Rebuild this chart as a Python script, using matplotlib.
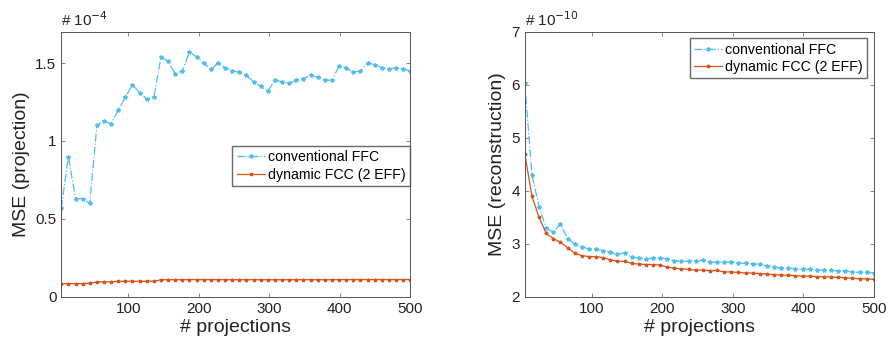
import matplotlib.pyplot as plt
import numpy as np

plt.rcParams['font.family'] = ['Liberation Sans', 'DejaVu Sans']

# number of projections (x positions of samples)
projections = np.linspace(5, 500, 50)

# left panel: MSE on projections, units of 1e-4
proj_conv = [0.57, 0.90, 0.63, 0.63, 0.60, 1.10, 1.13, 1.11, 1.20, 1.28,
             1.36, 1.31, 1.27, 1.28, 1.54, 1.51, 1.43, 1.45, 1.57, 1.54,
             1.50, 1.46, 1.50, 1.47, 1.45, 1.44, 1.42, 1.38, 1.35, 1.32,
             1.39, 1.38, 1.37, 1.39, 1.40, 1.42, 1.41, 1.39, 1.39, 1.48,
             1.47, 1.44, 1.45, 1.50, 1.49, 1.47, 1.46, 1.47, 1.46, 1.45]
proj_dyn = [0.085, 0.085, 0.085, 0.085, 0.088, 0.095, 0.097, 0.097, 0.100, 0.100,
            0.100, 0.100, 0.100, 0.100, 0.110, 0.110, 0.110, 0.110, 0.111, 0.111,
            0.111, 0.111, 0.111, 0.110, 0.110, 0.110, 0.110, 0.110, 0.110, 0.110,
            0.110, 0.110, 0.110, 0.110, 0.110, 0.110, 0.110, 0.110, 0.110, 0.111,
            0.111, 0.111, 0.111, 0.111, 0.111, 0.111, 0.111, 0.111, 0.111, 0.111]

# right panel: MSE on reconstruction, units of 1e-10
rec_conv = [6.03, 4.30, 3.70, 3.30, 3.22, 3.38, 3.10, 3.00, 2.95, 2.90,
            2.90, 2.87, 2.84, 2.80, 2.83, 2.75, 2.73, 2.72, 2.73, 2.74,
            2.71, 2.68, 2.67, 2.67, 2.68, 2.69, 2.65, 2.66, 2.65, 2.66,
            2.64, 2.63, 2.62, 2.62, 2.58, 2.56, 2.54, 2.54, 2.53, 2.52,
            2.52, 2.51, 2.50, 2.50, 2.49, 2.49, 2.47, 2.46, 2.46, 2.45]
rec_dyn = [4.70, 3.90, 3.50, 3.20, 3.10, 3.03, 2.93, 2.82, 2.78, 2.76,
           2.76, 2.74, 2.70, 2.67, 2.67, 2.63, 2.62, 2.61, 2.61, 2.60,
           2.56, 2.54, 2.53, 2.52, 2.50, 2.51, 2.49, 2.50, 2.47, 2.47,
           2.46, 2.45, 2.45, 2.44, 2.43, 2.42, 2.41, 2.41, 2.40, 2.39,
           2.39, 2.38, 2.38, 2.37, 2.37, 2.36, 2.35, 2.34, 2.34, 2.33]

labels = ['conventional FFC', 'dynamic FCC (2 EFF)']
blue = '#4DBEEE'
red = '#D95319'

fig = plt.figure(figsize=(8.88, 3.46), dpi=100)
ax1 = fig.add_axes([0.069, 0.142, 0.393, 0.766])
ax2 = fig.add_axes([0.591, 0.142, 0.393, 0.766])


def style(ax):
    for s in ax.spines.values():
        s.set_color('#555555')
        s.set_linewidth(0.7)
    ax.tick_params(direction='in', length=3, width=0.6, color='#777777',
                   labelsize=11, labelcolor='#222222', top=True, right=True,
                   labeltop=False, labelright=False)
    ax.set_xlim(5, 500)
    ax.set_xticks([100, 200, 300, 400, 500])
    ax.set_xlabel('# projections', fontsize=14, color='#222222', labelpad=2)


legend_kw = dict(fontsize=10.2, frameon=True, fancybox=False,
                 edgecolor='#444444', borderpad=0.3, labelspacing=0.25,
                 handlelength=2.0, handletextpad=0.2, borderaxespad=0)

ax1.plot(projections, proj_conv, color=blue, ls='-.', lw=0.9, marker='*',
         ms=3, label=labels[0])
ax1.plot(projections, proj_dyn, color=red, ls='-', lw=0.9, marker='*',
         ms=2.5, label=labels[1])
style(ax1)
ax1.set_ylim(0, 1.7)
ax1.set_yticks([0, 0.5, 1, 1.5])
ax1.set_yticklabels(['0', '0.5', '1', '1.5'])
ax1.set_ylabel('MSE (projection)', fontsize=14, color='#222222', labelpad=4)
ax1.text(0.0, 1.01, '# 10$^{-4}$', transform=ax1.transAxes, fontsize=11,
         color='#222222', ha='left', va='bottom')
ax1.legend(loc='upper left', bbox_to_anchor=(0.49, 0.57), **legend_kw)

ax2.plot(projections, rec_conv, color=blue, ls='-.', lw=0.9, marker='*',
         ms=3, label=labels[0])
ax2.plot(projections, rec_dyn, color=red, ls='-', lw=0.9, marker='*',
         ms=2.5, label=labels[1])
style(ax2)
ax2.set_ylim(2, 7)
ax2.set_yticks([2, 3, 4, 5, 6, 7])
ax2.set_ylabel('MSE (reconstruction)', fontsize=14, color='#222222', labelpad=4)
ax2.text(0.0, 1.01, '# 10$^{-10}$', transform=ax2.transAxes, fontsize=11,
         color='#222222', ha='left', va='bottom')
ax2.legend(loc='upper right', bbox_to_anchor=(0.98, 0.975), **legend_kw)

fig.savefig('out.png', dpi=100)
